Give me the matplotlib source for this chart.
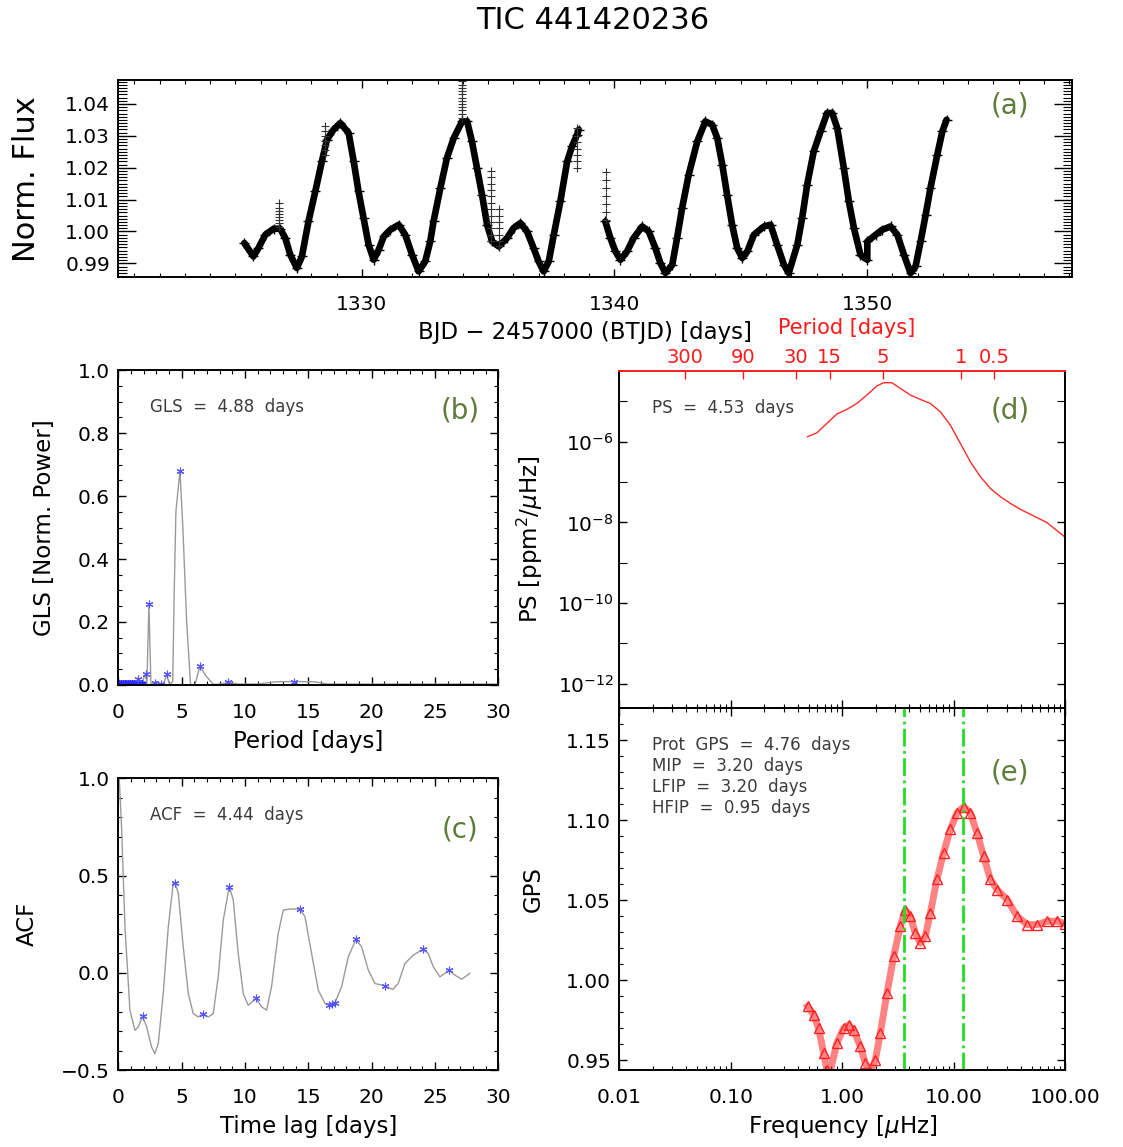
import numpy as np
import matplotlib.pyplot as plt
from matplotlib.ticker import MultipleLocator, NullFormatter, NullLocator, FuncFormatter

# ---------------- data ----------------
# (a) light curve, two TESS orbits
time_s1 = [1325.35, 1325.71, 1325.91, 1326.18, 1326.51, 1326.77, 1326.97, 1327.17, 1327.43,
           1327.63, 1327.89, 1328.16, 1328.42, 1328.62, 1328.88, 1329.15, 1329.48, 1329.68,
           1329.87, 1330.07, 1330.27, 1330.47, 1330.67, 1330.87, 1331.13, 1331.46, 1331.72,
           1331.99, 1332.25, 1332.51, 1332.71, 1332.84, 1333.11, 1333.37, 1333.64, 1333.97,
           1334.17, 1334.36, 1334.56, 1334.76, 1334.96, 1335.16, 1335.42, 1335.75, 1336.01,
           1336.28, 1336.54, 1336.80, 1337.00, 1337.20, 1337.40, 1337.60, 1337.86, 1338.13,
           1338.32, 1338.52, 1338.59]
flux_s1 = [0.99636, 0.99215, 0.99479, 0.99896, 1.00085, 1.00085, 0.99793, 0.99269, 0.98851,
           0.99215, 1.00314, 1.01256, 1.02197, 1.02878, 1.03192, 1.03402, 1.03089, 1.02197,
           1.01256, 1.00420, 0.99583, 0.99111, 0.99426, 0.99843, 1.00053, 1.00210, 0.99896,
           0.99269, 0.98745, 0.99058, 0.99686, 1.00314, 1.01362, 1.02304, 1.02932, 1.03453,
           1.03453, 1.02825, 1.01990, 1.01152, 1.00210, 0.99686, 0.99529, 0.99793, 1.00107,
           1.00264, 1.00000, 0.99479, 0.99058, 0.98745, 0.99058, 0.99896, 1.00942, 1.02197,
           1.02668, 1.03035, 1.03192]
time_s2 = [1339.64, 1339.84, 1340.04, 1340.24, 1340.50, 1340.76, 1341.10, 1341.36, 1341.62,
           1341.82, 1342.02, 1342.29, 1342.48, 1342.68, 1342.94, 1343.28, 1343.60, 1343.87,
           1344.07, 1344.27, 1344.46, 1344.66, 1344.86, 1345.06, 1345.26, 1345.52, 1345.92,
           1346.18, 1346.44, 1346.71, 1346.90, 1347.24, 1347.43, 1347.63, 1347.89, 1348.16,
           1348.42, 1348.62, 1348.82, 1349.08, 1349.28, 1349.48, 1349.74, 1350.01, 1350.01,
           1350.34, 1350.60, 1350.93, 1351.20, 1351.46, 1351.72, 1351.92, 1352.12, 1352.32,
           1352.51, 1352.78, 1352.98, 1353.15]
flux_s2 = [1.00314, 0.99793, 0.99372, 0.99111, 0.99372, 0.99793, 1.00157, 1.00000, 0.99479,
           0.99008, 0.98694, 0.98955, 0.99793, 1.00734, 1.01780, 1.02825, 1.03453, 1.03349,
           1.02932, 1.02094, 1.01152, 1.00210, 0.99479, 0.99165, 0.99372, 0.99896, 1.00157,
           1.00210, 0.99583, 0.98955, 0.98694, 0.99583, 1.00420, 1.01466, 1.02511, 1.03139,
           1.03716, 1.03716, 1.03245, 1.01990, 1.00942, 1.00107, 0.99269, 0.99111, 0.99686,
           0.99896, 1.00053, 1.00157, 0.99896, 0.99269, 0.98694, 0.98901, 0.99686, 1.00524,
           1.01362, 1.02407, 1.03139, 1.03506]
# columns of outlying points
spike_times = [1326.74, 1328.56, 1333.95, 1335.12, 1335.42, 1338.52, 1339.68]
spike_fluxes = [[1.0015, 1.0025, 1.0035, 1.0045, 1.0055, 1.0065, 1.0075, 1.0088],
                [1.0241, 1.0255, 1.0270, 1.0285, 1.0300, 1.0315, 1.0330],
                [1.0357, 1.0370, 1.0380, 1.0390, 1.0400, 1.0410, 1.0420, 1.0430, 1.0440,
                 1.0450, 1.0460, 1.0472],
                [0.9970, 0.9990, 1.0010, 1.0030, 1.0050, 1.0070, 1.0090, 1.0110, 1.0130,
                 1.0150, 1.0170, 1.0190],
                [0.9955, 0.9970, 0.9990, 1.0010, 1.0030, 1.0050, 1.0070],
                [1.0200, 1.0220, 1.0240, 1.0260, 1.0280, 1.0300, 1.0325],
                [1.0035, 1.0060, 1.0085, 1.0110, 1.0135, 1.0160, 1.0185]]

# (b) GLS periodogram
gls_period = [0.0, 0.5, 1.0, 1.4, 1.58, 1.8, 2.0, 2.16, 2.26, 2.42, 2.58, 2.9, 3.1, 3.34,
              3.6, 3.82, 4.05, 4.3, 4.42, 4.55, 4.87, 5.1, 5.4, 5.71, 6.05, 6.45, 6.9, 7.5,
              8.0, 8.68, 9.5, 11.0, 12.4, 13.9, 15.5, 16.5, 20.0, 25.0, 30.0]
gls_power = [0.002, 0.003, 0.004, 0.006, 0.020, 0.006, 0.020, 0.036, 0.002, 0.256, 0.002,
             0.006, 0.002, 0.004, 0.006, 0.034, 0.002, 0.010, 0.300, 0.550, 0.680, 0.500,
             0.200, 0.000, 0.000, 0.060, 0.030, 0.002, 0.003, 0.008, 0.003, 0.003, 0.010,
             0.011, 0.010, 0.003, 0.003, 0.003, 0.003]
gls_peak_period = [1.58, 2.16, 2.42, 2.9, 3.34, 3.82, 4.87, 6.45, 8.68, 13.9]
gls_peak_power = [0.020, 0.036, 0.256, 0.006, 0.004, 0.034, 0.680, 0.060, 0.008, 0.011]
gls_band_period = [0.05, 0.2, 0.35, 0.5, 0.65, 0.8, 0.95, 1.1, 1.25, 1.4, 1.55, 1.7, 1.85]
gls_band_power = [0.003, 0.003, 0.003, 0.003, 0.003, 0.003, 0.003, 0.003, 0.003, 0.003,
                  0.003, 0.003, 0.003]

# (c) ACF
acf_lag = [0.0, 0.08, 0.26, 0.53, 0.92, 1.32, 1.58, 1.92, 2.24, 2.63, 2.89, 3.16, 3.55, 3.95,
           4.34, 4.47, 4.74, 5.13, 5.53, 5.92, 6.32, 6.71, 7.1, 7.5, 7.89, 8.29, 8.76, 9.08,
           9.47, 9.87, 10.26, 10.87, 11.32, 11.71, 12.1, 12.63, 13.03, 13.55, 14.34, 14.74,
           15.26, 15.79, 16.32, 16.71, 17.1, 17.63, 18.16, 18.76, 19.21, 19.74, 20.26, 21.05,
           21.66, 22.1, 22.63, 23.29, 24.03, 24.47, 24.87, 25.39, 26.13, 26.58, 27.11, 27.76]
acf_val = [1.0, 0.993, 0.753, 0.237, -0.192, -0.296, -0.278, -0.223, -0.278, -0.381, -0.416,
           -0.364, -0.107, 0.237, 0.46, 0.464, 0.409, 0.134, -0.107, -0.21, -0.227, -0.21,
           -0.227, -0.21, -0.021, 0.271, 0.443, 0.375, 0.1, -0.107, -0.167, -0.132, -0.175,
           -0.192, -0.072, 0.203, 0.323, 0.328, 0.328, 0.289, 0.1, -0.089, -0.158, -0.163,
           -0.155, -0.072, 0.082, 0.172, 0.134, 0.014, -0.055, -0.067, -0.086, -0.055, 0.048,
           0.091, 0.12, 0.1, 0.031, -0.021, 0.014, -0.012, -0.033, -0.003]
acf_peak_lag = [1.92, 4.47, 6.71, 8.76, 10.87, 14.34, 16.6, 16.9, 17.1, 18.76, 21.05, 24.03, 26.13]
acf_peak_val = [-0.223, 0.464, -0.21, 0.443, -0.132, 0.328, -0.163, -0.160, -0.155, 0.172,
                -0.067, 0.12, 0.014]

# (d) power spectrum
ps_freq = [0.489, 0.593, 0.730, 0.895, 1.102, 1.355, 1.667, 2.046, 2.350, 2.793, 3.319,
           4.083, 5.023, 6.166, 7.586, 9.333, 11.48, 14.13, 17.38, 21.38, 26.30, 32.36,
           39.81, 52.48, 69.18, 100.7]
ps_power = [1.33e-6, 1.67e-6, 2.85e-6, 4.85e-6, 6.34e-6, 8.91e-6, 1.44e-5, 2.40e-5, 2.90e-5,
            2.90e-5, 2.10e-5, 1.44e-5, 1.12e-5, 8.91e-6, 5.55e-6, 2.59e-6, 9.12e-7, 3.19e-7,
            1.36e-7, 6.97e-8, 4.33e-8, 2.96e-8, 2.10e-8, 1.44e-8, 9.82e-9, 4.25e-9]
period_ticks = [300, 90, 30, 15, 5, 1, 0.5]

# (e) global wavelet power spectrum
gps_freq = [0.489, 0.553, 0.614, 0.681, 0.730, 0.767, 0.897, 1.03, 1.143, 1.265, 1.452, 1.61,
            1.786, 1.98, 2.198, 2.523, 2.897, 3.327, 3.681, 4.083, 4.529, 5.023, 5.572, 6.18,
            7.079, 8.128, 9.333, 10.72, 12.30, 14.13, 16.22, 18.62, 21.38, 24.55, 30.2,
            37.15, 45.7, 56.2, 69.2, 85.1, 100.7]
gps_val = [0.9838, 0.9785, 0.970, 0.9546, 0.944, 0.941, 0.961, 0.970, 0.9722, 0.969, 0.9588,
           0.9483, 0.943, 0.950, 0.967, 0.992, 1.015, 1.034, 1.044, 1.040, 1.0296, 1.0233,
           1.0275, 1.042, 1.063, 1.0796, 1.0942, 1.1046, 1.1083, 1.1046, 1.092, 1.0775, 1.063,
           1.0567, 1.0504, 1.040, 1.0348, 1.0348, 1.0369, 1.0369, 1.0354]
mip_period = 3.20
hfip_period = 0.95

OLIVE = '#5e7d3a'
TXT = '#3c3c3c'
RED = '#ff1a1a'
TICKSIZE = 14.5
LABSIZE = 16.5


def days_to_uhz(p):
    return 1e6 / (np.asarray(p, dtype=float) * 86400.0)


def fixed(decimals):
    # tick labels with a real minus sign, like the reference
    return FuncFormatter(lambda v, pos: f'{v:.{decimals}f}'.replace('-', '\u2212'))


def style(ax, top=True):
    ax.tick_params(which='both', direction='in', top=top, right=True, labelsize=TICKSIZE)
    ax.tick_params(which='major', length=6, width=1.0)
    ax.tick_params(which='minor', length=3, width=0.8)
    ax.tick_params(axis='x', pad=13)
    ax.tick_params(axis='y', pad=6)
    for s in ax.spines.values():
        s.set_linewidth(1.4)


fig = plt.figure(figsize=(11.23, 11.47), dpi=100)

fig.text(0.528, 0.982, 'TIC 441420236', ha='center', va='center', fontsize=22,
         family=['Liberation Sans Narrow', 'DejaVu Sans'])

# ---------------- (a) ----------------
ax_a = fig.add_axes([0.1053, 0.7582, 0.849, 0.172])
for t, f in ((time_s1, flux_s1), (time_s2, flux_s2)):
    ax_a.plot(t, f, color='black', lw=4.8, solid_joinstyle='round', solid_capstyle='round')
    ax_a.plot(t, f, ls='none', marker='+', ms=7, mew=1.0, color='black')
for t, fl in zip(spike_times, spike_fluxes):
    ax_a.plot([t] * len(fl), fl, ls='none', marker='+', ms=6, mew=0.8, color='#333333')
ax_a.set_xlim(1320.36, 1358.1)
ax_a.set_ylim(0.9856, 1.0475)
style(ax_a)
ax_a.xaxis.set_major_locator(MultipleLocator(10))
ax_a.xaxis.set_minor_locator(MultipleLocator(1))
ax_a.yaxis.set_major_locator(MultipleLocator(0.01))
ax_a.yaxis.set_minor_locator(MultipleLocator(0.001))
ax_a.yaxis.set_major_formatter(fixed(2))
ax_a.tick_params(axis='y', which='major', length=13)
ax_a.tick_params(axis='y', which='minor', length=6.5)
ax_a.set_xlabel('BJD \u2212 2457000 (BTJD) [days]', fontsize=LABSIZE)
ax_a.xaxis.set_label_coords(0.49, -0.282)
ax_a.xaxis.label.set_va('center')
ax_a.set_ylabel('Norm. Flux', fontsize=22)
ax_a.yaxis.set_label_coords(-0.0958, 0.5)
ax_a.yaxis.label.set_va('center')
ax_a.text(0.935, 0.873, '(a)', transform=ax_a.transAxes, color=OLIVE, fontsize=20,
          ha='center', va='center')

# ---------------- (b) ----------------
ax_b = fig.add_axes([0.1053, 0.4028, 0.3384, 0.2746])
ax_b.plot(gls_period, gls_power, color='#9a9a9a', lw=1.0)
ax_b.plot(gls_band_period, gls_band_power, ls='none', marker=(6, 2, 0), ms=6, mew=1.2,
          color='#2a2aff')
ax_b.plot(gls_peak_period, gls_peak_power, ls='none', marker=(6, 2, 0), ms=5.5, mew=0.8,
          color='#5555ff')
ax_b.set_xlim(0, 30)
ax_b.set_ylim(0, 1.0)
style(ax_b)
ax_b.xaxis.set_major_locator(MultipleLocator(5))
ax_b.xaxis.set_minor_locator(MultipleLocator(1))
ax_b.yaxis.set_major_locator(MultipleLocator(0.2))
ax_b.yaxis.set_minor_locator(MultipleLocator(0.05))
ax_b.yaxis.set_major_formatter(fixed(1))
ax_b.set_xlabel('Period [days]', fontsize=LABSIZE)
ax_b.xaxis.set_label_coords(0.5, -0.178)
ax_b.xaxis.label.set_va('center')
ax_b.set_ylabel('GLS [Norm. Power]', fontsize=LABSIZE)
ax_b.yaxis.set_label_coords(-0.193, 0.5)
ax_b.yaxis.label.set_va('center')
ax_b.text(0.084, 0.882, 'GLS  =  4.88  days', transform=ax_b.transAxes, color=TXT,
          fontsize=12, ha='left', va='center')
ax_b.text(0.899, 0.873, '(b)', transform=ax_b.transAxes, color=OLIVE, fontsize=20,
          ha='center', va='center')

# ---------------- (c) ----------------
ax_c = fig.add_axes([0.1053, 0.0671, 0.3384, 0.2543])
ax_c.plot(acf_lag, acf_val, color='#9a9a9a', lw=1.0)
ax_c.plot(acf_peak_lag, acf_peak_val, ls='none', marker=(6, 2, 0), ms=5.5, mew=0.8,
          color='#5555ff')
ax_c.set_xlim(0, 30)
ax_c.set_ylim(-0.5, 1.0)
style(ax_c)
ax_c.xaxis.set_major_locator(MultipleLocator(5))
ax_c.xaxis.set_minor_locator(MultipleLocator(1))
ax_c.yaxis.set_major_locator(MultipleLocator(0.5))
ax_c.yaxis.set_minor_locator(MultipleLocator(0.1))
ax_c.yaxis.set_major_formatter(fixed(1))
ax_c.set_xlabel('Time lag [days]', fontsize=LABSIZE)
ax_c.xaxis.set_label_coords(0.5, -0.195)
ax_c.xaxis.label.set_va('center')
ax_c.set_ylabel('ACF', fontsize=LABSIZE)
ax_c.yaxis.set_label_coords(-0.24, 0.5)
ax_c.yaxis.label.set_va('center')
ax_c.text(0.084, 0.874, 'ACF  =  4.44  days', transform=ax_c.transAxes, color=TXT,
          fontsize=12, ha='left', va='center')
ax_c.text(0.899, 0.823, '(c)', transform=ax_c.transAxes, color=OLIVE, fontsize=20,
          ha='center', va='center')

# ---------------- (d) ----------------
ax_d = fig.add_axes([0.5515, 0.3827, 0.3969, 0.2941])
ax_d.plot(ps_freq, ps_power, color='#ff2a2a', lw=1.0)
ax_d.set_xscale('log')
ax_d.set_yscale('log')
ax_d.set_xlim(0.01, 100)
ax_d.set_ylim(10 ** -12.6, 10 ** -4.24)
style(ax_d, top=False)
ax_d.set_yticks([1e-12, 1e-10, 1e-8, 1e-6])
ax_d.set_yticks([1e-11, 1e-9, 1e-7, 1e-5], minor=True)
ax_d.yaxis.set_minor_formatter(NullFormatter())
ax_d.tick_params(axis='y', which='minor', length=6)
ax_d.tick_params(axis='y', pad=4)
ax_d.tick_params(axis='x', labelbottom=False)
ax_d.spines['top'].set_visible(False)
ax_d.set_ylabel('PS [ppm$^2$/$\\mu$Hz]', fontsize=LABSIZE)
ax_d.yaxis.set_label_coords(-0.200, 0.5)
ax_d.yaxis.label.set_va('center')
ax_d.text(0.073, 0.889, 'PS  =  4.53  days', transform=ax_d.transAxes, color=TXT,
          fontsize=12, ha='left', va='center')
ax_d.text(0.877, 0.883, '(d)', transform=ax_d.transAxes, color=OLIVE, fontsize=20,
          ha='center', va='center')

ax_p = ax_d.twiny()
ax_p.set_xscale('log')
ax_p.set_xlim(ax_d.get_xlim())
ax_p.set_xticks(days_to_uhz(period_ticks))
ax_p.set_xticklabels([f'{p:g}' for p in period_ticks])
ax_p.xaxis.set_minor_locator(NullLocator())
ax_p.tick_params(axis='x', direction='in', colors=RED, length=6, width=1.0,
                 labelsize=TICKSIZE - 0.5, pad=3)
for side in ('left', 'right', 'bottom'):
    ax_p.spines[side].set_visible(False)
ax_p.spines['top'].set_color(RED)
ax_p.spines['top'].set_linewidth(1.4)
ax_p.set_xlabel('Period [days]', fontsize=15, color=RED)
ax_p.xaxis.set_label_coords(0.51, 1.128)
ax_p.xaxis.label.set_va('center')

# ---------------- (e) ----------------
ax_e = fig.add_axes([0.5515, 0.0671, 0.3969, 0.3156])
ax_e.plot(gps_freq, gps_val, color='#ff3030', lw=5, alpha=0.6)
ax_e.plot(gps_freq, gps_val, ls='none', marker='^', ms=7, mfc='none', mec='#ff2020', mew=1.0)
for p in (mip_period, hfip_period):
    ax_e.axvline(days_to_uhz(p), color='#22dd22', ls='-.', lw=2.0)
ax_e.set_xscale('log')
ax_e.set_xlim(0.01, 100)
ax_e.set_ylim(0.944, 1.170)
style(ax_e)
ax_e.set_xticks([0.01, 0.1, 1, 10, 100])
ax_e.set_xticklabels(['0.01', '0.10', '1.00', '10.00', '100.00'])
ax_e.yaxis.set_major_locator(MultipleLocator(0.05))
ax_e.yaxis.set_minor_locator(MultipleLocator(0.01))
ax_e.yaxis.set_major_formatter(fixed(2))
ax_e.set_xlabel('Frequency [$\\mu$Hz]', fontsize=LABSIZE)
ax_e.xaxis.set_label_coords(0.5, -0.157)
ax_e.xaxis.label.set_va('center')
ax_e.set_ylabel('GPS', fontsize=LABSIZE)
ax_e.yaxis.set_label_coords(-0.194, 0.5)
ax_e.yaxis.label.set_va('center')
gps_lines = ['Prot  GPS  =  4.76  days', 'MIP  =  3.20  days',
             'LFIP  =  3.20  days', 'HFIP  =  0.95  days']
for i, line in enumerate(gps_lines):
    ax_e.text(0.073, 0.898 - 0.058 * i, line, transform=ax_e.transAxes, color=TXT,
              fontsize=12, ha='left', va='center')
ax_e.text(0.877, 0.823, '(e)', transform=ax_e.transAxes, color=OLIVE, fontsize=20,
          ha='center', va='center')

fig.savefig('out.png', dpi=100)
